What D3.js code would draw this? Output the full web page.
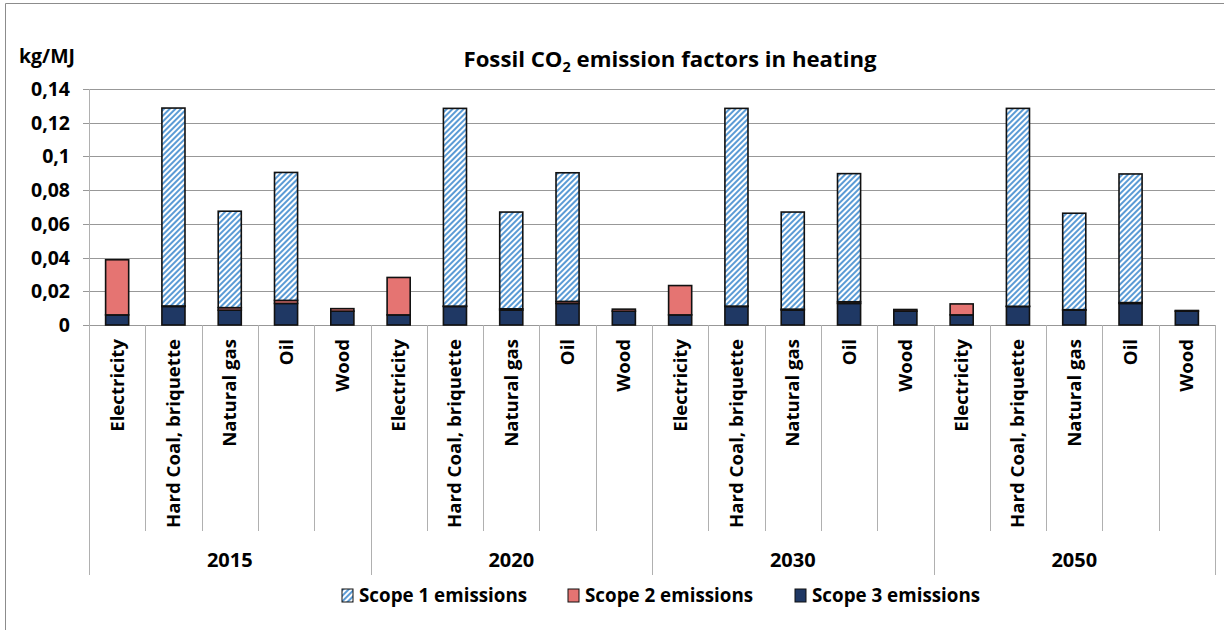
<!DOCTYPE html>
<meta charset="utf-8">
<style>
body { margin: 0; background: #fff; }
text { font-family: "Open Sans", Lato, sans-serif; fill: #000; font-weight: bold; }
.grid line { stroke: #989898; stroke-width: 1; }
.sep { stroke: #b0b0b0; stroke-width: 1; }
</style>
<svg width="1224" height="630"></svg>
<script src="https://cdn.jsdelivr.net/npm/d3@7"></script>
<script>

var years = ["2015", "2020", "2030", "2050"];
var categories = ["Electricity", "Hard Coal, briquette", "Natural gas", "Oil", "Wood"];
var yTicks = [0, 0.02, 0.04, 0.06, 0.08, 0.1, 0.12, 0.14];
var seriesNames = ["Scope 1 emissions", "Scope 2 emissions", "Scope 3 emissions"];

// one row per year, one value per category
var scope1 = [
  [0, 0.1174, 0.0572, 0.0759, 0],
  [0, 0.1173, 0.0574, 0.0763, 0],
  [0, 0.1173, 0.0576, 0.0760, 0],
  [0, 0.1174, 0.0572, 0.0763, 0]
];
var scope2 = [
  [0.0327, 0.0003, 0.0015, 0.0018, 0.0015],
  [0.0222, 0.0002, 0.0008, 0.0012, 0.0012],
  [0.0174, 0.0002, 0.0006, 0.0010, 0.0010],
  [0.0065, 0.0001, 0.0003, 0.0005, 0.0004]
];
var scope3 = [
  [0.0060, 0.0110, 0.0088, 0.0128, 0.0082],
  [0.0060, 0.0110, 0.0088, 0.0128, 0.0082],
  [0.0060, 0.0110, 0.0088, 0.0128, 0.0082],
  [0.0060, 0.0110, 0.0088, 0.0128, 0.0082]
];

var colors = { s1: "url(#hatch)", s2: "#e57472", s3: "#1f3864" };

var svg = d3.select("svg");

var plotLeft = 89, plotRight = 1215, plotTop = 89, zeroY = 325;

// frame of the chart area
svg.append("path")
    .attr("d", "M5.5,640 V3.5 H1230")
    .attr("fill", "none")
    .attr("stroke", "#8c8c8c");

var defs = svg.append("defs");
var pat = defs.append("pattern")
    .attr("id", "hatch")
    .attr("patternUnits", "userSpaceOnUse")
    .attr("width", 4)
    .attr("height", 4)
    .attr("patternTransform", "rotate(45)");
pat.append("rect").attr("width", 4).attr("height", 4).attr("fill", "#fff");
pat.append("rect").attr("width", 2).attr("height", 4).attr("fill", "#5b9bd5");

var rows = [];
years.forEach(function(yr, i) {
  categories.forEach(function(c, j) {
    rows.push({ year: yr, cat: c, s3: scope3[i][j], s2: scope2[i][j], s1: scope1[i][j] });
  });
});

var x0 = d3.scaleBand().domain(years).range([plotLeft, plotRight]);
var x1 = d3.scaleBand().domain(categories).range([0, x0.bandwidth()])
    .paddingInner(0.59).paddingOuter(0.295);
var y = d3.scaleLinear().domain([0, 0.14]).range([zeroY, plotTop]);

// gridlines
svg.append("g").attr("class", "grid")
  .selectAll("line").data(yTicks).enter().append("line")
    .attr("x1", plotLeft - 6).attr("x2", plotRight)
    .attr("y1", function(d) { return Math.round(y(d)) + 0.5; })
    .attr("y2", function(d) { return Math.round(y(d)) + 0.5; });

// y tick labels
svg.append("g").selectAll("text").data(yTicks).enter().append("text")
    .attr("x", 70)
    .attr("y", function(d) { return y(d); })
    .attr("dy", "0.36em")
    .attr("text-anchor", "end")
    .style("font-size", "19.5px")
    .text(function(d) { return d3.format(".2~f")(d).replace(".", ","); });

svg.append("text")
    .attr("x", 47).attr("y", 63)
    .attr("text-anchor", "middle")
    .style("font-size", "19.5px")
    .text("kg/MJ");

// title
var title = svg.append("text")
    .attr("x", 670).attr("y", 67)
    .attr("text-anchor", "middle")
    .style("font-size", "22.2px");
title.append("tspan").text("Fossil CO");
title.append("tspan").attr("dy", 5).style("font-size", "14.5px").text("2");
title.append("tspan").attr("dy", -5).text(" emission factors in heating");

// stacked bars
var stack = d3.stack().keys(["s3", "s2", "s1"]);
var layers = stack(rows);

svg.append("g").selectAll("g").data(layers).enter().append("g")
    .attr("fill", function(d) { return colors[d.key]; })
  .selectAll("rect").data(function(d) { return d; }).enter()
    .filter(function(d) { return d[1] - d[0] > 0; })
    .append("rect")
    .attr("x", function(d) { return x0(d.data.year) + x1(d.data.cat); })
    .attr("width", x1.bandwidth())
    .attr("y", function(d) { return y(d[1]); })
    .attr("height", function(d) { return y(d[0]) - y(d[1]); })
    .attr("stroke", "#111")
    .attr("stroke-width", 1.6);

// category separators and labels
svg.append("g").selectAll("line").data(rows).enter().append("line")
    .attr("class", "sep")
    .attr("x1", function(d) { return Math.round(x0(d.year) + x1(d.cat) - x1.step() * 0.295) + 0.5; })
    .attr("x2", function(d) { return Math.round(x0(d.year) + x1(d.cat) - x1.step() * 0.295) + 0.5; })
    .attr("y1", zeroY)
    .attr("y2", function(d) { return d.cat === categories[0] ? 575 : 531; });

svg.append("line").attr("class", "sep")
    .attr("x1", plotRight + 0.5).attr("x2", plotRight + 0.5)
    .attr("y1", zeroY).attr("y2", 575);
svg.append("line").attr("class", "sep")
    .attr("x1", plotLeft + 0.5).attr("x2", plotLeft + 0.5)
    .attr("y1", plotTop).attr("y2", 575);

svg.append("g").selectAll("text").data(rows).enter().append("text")
    .attr("transform", function(d) {
      var cx = x0(d.year) + x1(d.cat) + x1.bandwidth() / 2;
      return "translate(" + (cx + 6.5) + ",339) rotate(-90)";
    })
    .attr("text-anchor", "end")
    .style("font-size", "18.6px")
    .text(function(d) { return d.cat; });

svg.append("g").selectAll("text").data(years).enter().append("text")
    .attr("x", function(d) { return x0(d) + x0.bandwidth() / 2; })
    .attr("y", 567)
    .attr("text-anchor", "middle")
    .style("font-size", "20px")
    .text(function(d) { return d; });

// legend
var legendX = [342, 568, 795];
var legendFill = [colors.s1, colors.s2, colors.s3];
var legend = svg.append("g").selectAll("g").data(seriesNames).enter().append("g")
    .attr("transform", function(d, i) { return "translate(" + legendX[i] + ",589)"; });
legend.append("rect")
    .attr("width", 11).attr("height", 13)
    .attr("fill", function(d, i) { return legendFill[i]; })
    .attr("stroke", "#111").attr("stroke-width", 1);
legend.append("text")
    .attr("x", 17).attr("y", 6.5).attr("dy", "0.36em")
    .style("font-size", "18.8px")
    .text(function(d) { return d; });

</script>
